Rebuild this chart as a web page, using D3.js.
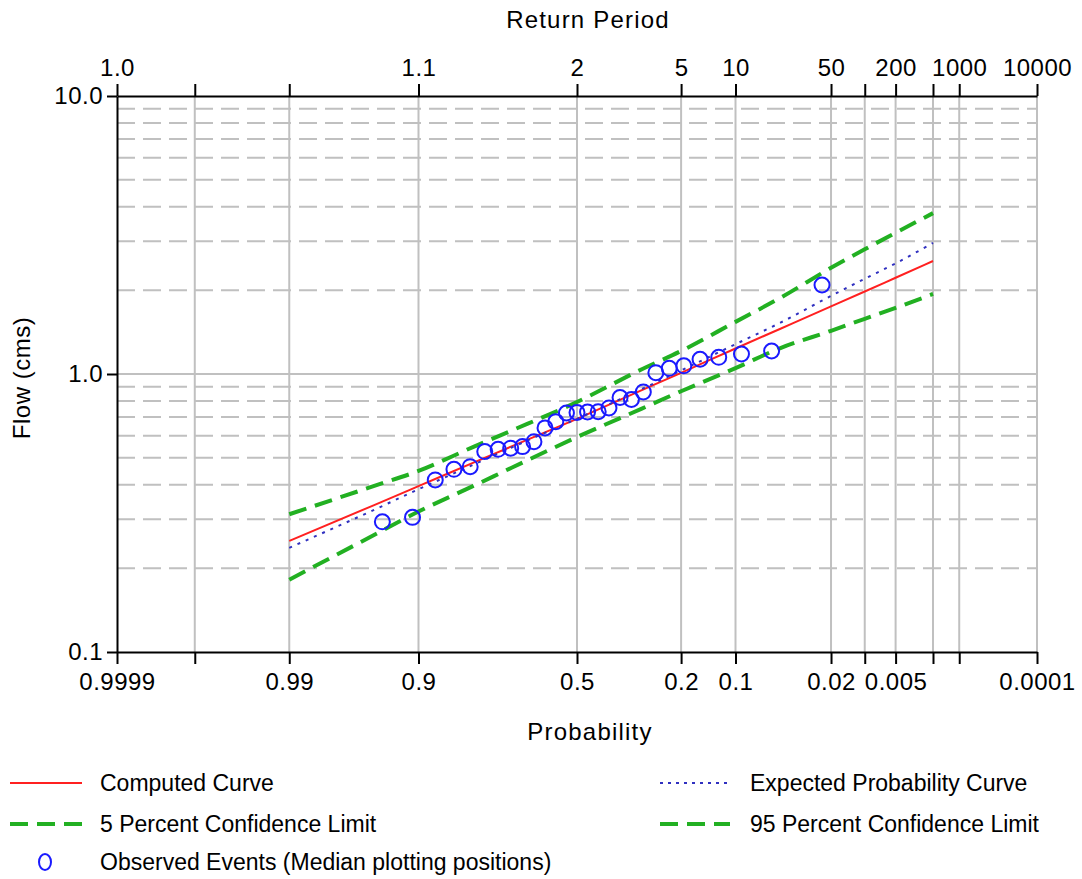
<!DOCTYPE html>
<html>
<head>
<meta charset="utf-8">
<script src="https://cdn.jsdelivr.net/npm/d3@7"></script>
<style>
  html, body { margin: 0; padding: 0; background: #ffffff; }
  svg { display: block; font-family: "Liberation Sans", Arial, sans-serif; }
</style>
</head>
<body>
<svg id="chart" width="1082" height="879"></svg>
<script>
// ---------------- data ----------------
// Exceedance probabilities at which the fitted curves are drawn
const curveProbs    = [0.99, 0.95, 0.9, 0.8, 0.7, 0.5, 0.3, 0.2, 0.1, 0.05, 0.02, 0.01, 0.005, 0.002];
const computedFlow  = [0.251, 0.337, 0.395, 0.479, 0.550, 0.690, 0.875, 1.01, 1.235, 1.455, 1.75, 1.98, 2.22, 2.55];
const expectedFlow  = [0.237, 0.324, 0.385, 0.471, 0.545, 0.690, 0.883, 1.03, 1.28, 1.53, 1.91, 2.20, 2.50, 2.96];
const conf5Flow     = [0.313, 0.395, 0.448, 0.546, 0.627, 0.793, 1.04, 1.21, 1.54, 1.88, 2.41, 2.81, 3.22, 3.79];
const conf95Flow    = [0.182, 0.263, 0.320, 0.395, 0.461, 0.593, 0.751, 0.867, 1.05, 1.24, 1.43, 1.58, 1.73, 1.94];

// Observed events (median plotting positions)
const obsProb = [0.0238, 0.0578, 0.0918, 0.1259, 0.1599, 0.1939, 0.2279, 0.2619, 0.2959, 0.3299,
                 0.3639, 0.3980, 0.4320, 0.4660, 0.5000, 0.5340, 0.5680, 0.6020, 0.6361, 0.6701,
                 0.7041, 0.7381, 0.7721, 0.8061, 0.8401, 0.8741, 0.9082, 0.9422];
const obsFlow = [2.09, 1.21, 1.18, 1.148, 1.13, 1.07, 1.048, 1.011, 0.862, 0.810,
                 0.823, 0.755, 0.732, 0.730, 0.727, 0.724, 0.674, 0.640, 0.571, 0.548,
                 0.541, 0.536, 0.526, 0.464, 0.454, 0.416, 0.305, 0.294];

// Axis ticks
const probTicks       = [0.9999, 0.999, 0.99, 0.9, 0.5, 0.2, 0.1, 0.02, 0.01, 0.005, 0.002, 0.001, 0.0001];
const probLabels      = ["0.9999", "", "0.99", "0.9", "0.5", "0.2", "0.1", "0.02", "", "0.005", "", "", "0.0001"];
const returnLabels    = ["1.0", "", "", "1.1", "2", "5", "10", "50", "", "200", "", "1000", "10000"];
const flowTicks       = [0.1, 1, 10];
const flowMinorGrid   = [0.2, 0.3, 0.4, 0.5, 0.6, 0.7, 0.8, 0.9, 2, 3, 4, 5, 6, 7, 8, 9];

const legendItems = [
  {label: "Computed Curve", kind: "computed", col: 0, row: 0},
  {label: "Expected Probability Curve", kind: "expected", col: 1, row: 0},
  {label: "5 Percent Confidence Limit", kind: "conf", col: 0, row: 1},
  {label: "95 Percent Confidence Limit", kind: "conf", col: 1, row: 1},
  {label: "Observed Events (Median plotting positions)", kind: "obs", col: 0, row: 2}
];

// ---------------- helpers ----------------
// inverse standard normal CDF (Acklam)
function normInv(p) {
  const a = [-3.969683028665376e+01, 2.209460984245205e+02, -2.759285104469687e+02, 1.383577518672690e+02, -3.066479806614716e+01, 2.506628277459239e+00];
  const b = [-5.447609879822406e+01, 1.615858368580409e+02, -1.556989798598866e+02, 6.680131188771972e+01, -1.328068155288572e+01];
  const c = [-7.784894002430293e-03, -3.223964580411365e-01, -2.400758277161838e+00, -2.549732539343734e+00, 4.374664141464968e+00, 2.938163982698783e+00];
  const d = [7.784695709041462e-03, 3.224671290700398e-01, 2.445134137142996e+00, 3.754408661907416e+00];
  const pl = 0.02425, ph = 1 - pl;
  let q, r;
  if (p < pl) {
    q = Math.sqrt(-2 * Math.log(p));
    return (((((c[0]*q+c[1])*q+c[2])*q+c[3])*q+c[4])*q+c[5]) / ((((d[0]*q+d[1])*q+d[2])*q+d[3])*q+1);
  } else if (p <= ph) {
    q = p - 0.5; r = q*q;
    return (((((a[0]*r+a[1])*r+a[2])*r+a[3])*r+a[4])*r+a[5])*q / (((((b[0]*r+b[1])*r+b[2])*r+b[3])*r+b[4])*r+1);
  } else {
    q = Math.sqrt(-2 * Math.log(1 - p));
    return -(((((c[0]*q+c[1])*q+c[2])*q+c[3])*q+c[4])*q+c[5]) / ((((d[0]*q+d[1])*q+d[2])*q+d[3])*q+1);
  }
}
// exceedance probability -> standard normal variate (left = high exceedance)
const zOf = p => normInv(1 - p);

// ---------------- layout ----------------
const L = 117, R = 1037, T = 96, B = 652;
const svg = d3.select("#chart");

const xz = d3.scaleLinear().domain([zOf(0.9999), zOf(0.0001)]).range([L, R]);
const xp = p => xz(zOf(p));
const y = d3.scaleLog().domain([0.1, 10]).range([B, T]);

const gridColor = "#c0c0c0";

// vertical grid
svg.append("g").selectAll("line")
  .data(probTicks.filter(p => p !== 0.9999))
  .join("line")
  .attr("x1", d => xp(d)).attr("x2", d => xp(d))
  .attr("y1", T).attr("y2", B)
  .attr("stroke", gridColor).attr("stroke-width", 2);

// horizontal dashed grid
svg.append("g").selectAll("line")
  .data(flowMinorGrid)
  .join("line")
  .attr("x1", L).attr("x2", R)
  .attr("y1", d => y(d)).attr("y2", d => y(d))
  .attr("stroke", gridColor).attr("stroke-width", 2)
  .attr("stroke-dasharray", "18,8");

// solid grid at 1.0
svg.append("line")
  .attr("x1", L).attr("x2", R).attr("y1", y(1)).attr("y2", y(1))
  .attr("stroke", gridColor).attr("stroke-width", 2);

// ---------------- curves ----------------
const line = d3.line()
  .x(d => xp(d[0]))
  .y(d => y(d[1]))
  .curve(d3.curveMonotoneX);

const pairs = arr => curveProbs.map((p, i) => [p, arr[i]]);

const green = "#22b022";
svg.append("path").attr("d", line(pairs(conf5Flow)))
  .attr("fill", "none").attr("stroke", green).attr("stroke-width", 4)
  .attr("stroke-dasharray", "18,9");
svg.append("path").attr("d", line(pairs(conf95Flow)))
  .attr("fill", "none").attr("stroke", green).attr("stroke-width", 4)
  .attr("stroke-dasharray", "18,9");
svg.append("path").attr("d", line(pairs(computedFlow)))
  .attr("fill", "none").attr("stroke", "#ff2020").attr("stroke-width", 2);
svg.append("path").attr("d", line(pairs(expectedFlow)))
  .attr("fill", "none").attr("stroke", "#3030c0").attr("stroke-width", 2)
  .attr("stroke-dasharray", "3,6");

// observed events
svg.append("g").selectAll("circle")
  .data(obsProb.map((p, i) => [p, obsFlow[i]]))
  .join("circle")
  .attr("cx", d => xp(d[0]))
  .attr("cy", d => y(d[1]))
  .attr("r", 7.5)
  .attr("fill", "none")
  .attr("stroke", "#1a1aff")
  .attr("stroke-width", 2);

// ---------------- axes ----------------
const fontSize = 24;
function styleAxis(g) {
  g.select(".domain").attr("stroke", "#000").attr("stroke-width", 2);
  g.selectAll(".tick line").attr("stroke", "#000").attr("stroke-width", 2);
  g.selectAll(".tick text").attr("fill", "#000").style("font-size", fontSize + "px")
    .style("letter-spacing", "0.5px")
    .style("font-family", "'Liberation Sans', Arial, sans-serif");
}

const zTicks = probTicks.map(zOf);

const bottomAxis = d3.axisBottom(xz)
  .tickValues(zTicks)
  .tickSize(12).tickSizeOuter(0).tickPadding(9)
  .tickFormat((d, i) => probLabels[i]);
svg.append("g").attr("transform", `translate(0,${B})`).call(bottomAxis).call(styleAxis);

const topAxis = d3.axisTop(xz)
  .tickValues(zTicks)
  .tickSize(12).tickSizeOuter(0).tickPadding(8)
  .tickFormat((d, i) => returnLabels[i]);
svg.append("g").attr("transform", `translate(0,${T})`).call(topAxis).call(styleAxis);

const leftAxis = d3.axisLeft(y)
  .tickValues(flowTicks)
  .tickSize(10).tickSizeOuter(0).tickPadding(4)
  .tickFormat(d3.format(".1f"));
svg.append("g").attr("transform", `translate(${L},0)`).call(leftAxis).call(styleAxis);

// ---------------- titles ----------------
svg.append("text").attr("x", 588).attr("y", 28).attr("text-anchor", "middle")
  .style("font-size", "24px").style("letter-spacing", "1.2px").text("Return Period");
svg.append("text").attr("x", 590).attr("y", 740).attr("text-anchor", "middle")
  .style("font-size", "24px").style("letter-spacing", "1.2px").text("Probability");
svg.append("text").attr("transform", "translate(30,378) rotate(-90)").attr("text-anchor", "middle")
  .style("font-size", "24px").style("letter-spacing", "0.5px").text("Flow (cms)");

// ---------------- legend ----------------
const legCols = [{sx: 10, ex: 82, tx: 100}, {sx: 660, ex: 730, tx: 750}];
const legRows = [783, 824, 862];
const leg = svg.append("g").selectAll("g").data(legendItems).join("g");
leg.each(function(d) {
  const g = d3.select(this);
  const c = legCols[d.col], yy = legRows[d.row];
  if (d.kind === "computed") {
    g.append("line").attr("x1", c.sx).attr("x2", c.ex).attr("y1", yy).attr("y2", yy)
      .attr("stroke", "#ff2020").attr("stroke-width", 2);
  } else if (d.kind === "expected") {
    g.append("line").attr("x1", c.sx).attr("x2", c.ex).attr("y1", yy).attr("y2", yy)
      .attr("stroke", "#3030c0").attr("stroke-width", 2).attr("stroke-dasharray", "3,5");
  } else if (d.kind === "conf") {
    g.append("line").attr("x1", c.sx).attr("x2", c.ex).attr("y1", yy).attr("y2", yy)
      .attr("stroke", green).attr("stroke-width", 4).attr("stroke-dasharray", "18,9");
  } else {
    g.append("ellipse").attr("cx", 45).attr("cy", yy).attr("rx", 6).attr("ry", 8)
      .attr("fill", "none").attr("stroke", "#1a1aff").attr("stroke-width", 2);
  }
  g.append("text").attr("x", c.tx).attr("y", yy + 8)
    .style("font-size", "23px").attr("fill", "#000").text(d.label);
});
</script>
</body>
</html>
